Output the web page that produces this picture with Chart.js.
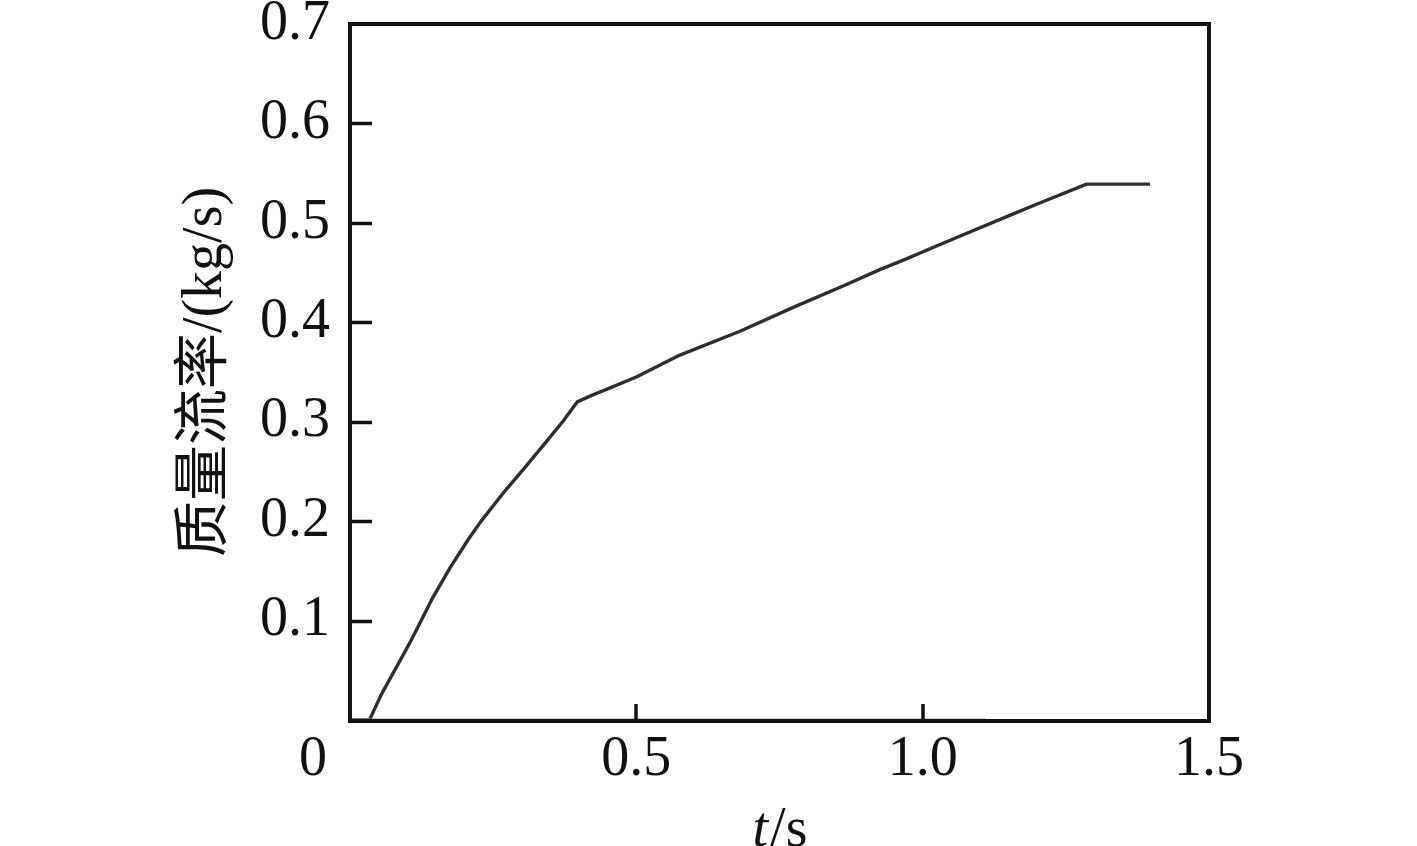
<!DOCTYPE html>
<html>
<head>
<meta charset="utf-8">
<script src="https://cdn.jsdelivr.net/npm/chart.js@4.4.1/dist/chart.umd.min.js"></script>
<style>
html,body{margin:0;padding:0;background:#fff;}
canvas{display:block;}
</style>
</head>
<body>
<canvas id="c" width="1417" height="846"></canvas>
<script>
// ---- data ----
const timeS    = [0, 0.034, 0.055, 0.080, 0.102, 0.1235, 0.1426, 0.1746, 0.207, 0.229, 0.270, 0.3027, 0.340, 0.3726, 0.397, 0.420, 0.450, 0.500, 0.576, 0.681, 0.774, 0.867, 0.925, 0.960, 1.050, 1.150, 1.200, 1.2863, 1.397];
const massFlow = [0, 0,     0.026, 0.052, 0.075, 0.099,  0.121,  0.153,  0.182, 0.200, 0.230, 0.252,  0.278, 0.301,  0.320, 0.326, 0.333, 0.345, 0.367, 0.391, 0.415, 0.438, 0.453, 0.461, 0.483, 0.507, 0.519, 0.539,  0.539];
const baseTime = [0, 1.11];
const baseFlow = [0, 0];
const xTickValues = [0, 0.5, 1.0, 1.5];
const xTickLabels = ['0', '0.5', '1.0', '1.5'];
const yTickValues = [0, 0.1, 0.2, 0.3, 0.4, 0.5, 0.6, 0.7];
const yTickLabels = ['', '0.1', '0.2', '0.3', '0.4', '0.5', '0.6', '0.7'];
const xTitleItalic = 't';
const xTitleRest = '/s';
const yTitle = '质量流率/(kg/s)';

const FONT = '"Liberation Serif", "Times New Roman", "Noto Sans CJK SC", serif';
const FS = 56;

function labelFor(values, labels, v) {
  for (let i = 0; i < values.length; i++) if (Math.abs(values[i] - v) < 1e-6) return labels[i];
  return '';
}

const framePlugin = {
  id: 'frame',
  afterDraw(chart) {
    const ctx = chart.ctx, a = chart.chartArea;
    const xs = chart.scales.x, ys = chart.scales.y;
    ctx.save();
    ctx.strokeStyle = '#111';
    ctx.lineWidth = 4;
    ctx.strokeRect(a.left, a.top, a.right - a.left, a.bottom - a.top + 1);
    ctx.lineWidth = 3.5;
    // inward y ticks
    yTickValues.forEach(v => {
      if (v <= 0 || v >= 0.7) return;
      const y = Math.round(ys.getPixelForValue(v)) + 0.5;
      ctx.beginPath(); ctx.moveTo(a.left, y); ctx.lineTo(a.left + 22, y); ctx.stroke();
    });
    // inward x ticks
    xTickValues.forEach(v => {
      if (v <= 0 || v >= 1.5) return;
      const x = Math.round(xs.getPixelForValue(v));
      ctx.beginPath(); ctx.moveTo(x, a.bottom); ctx.lineTo(x, a.bottom - 16); ctx.stroke();
    });
    // origin label
    ctx.fillStyle = '#111';
    ctx.font = FS + 'px ' + FONT;
    ctx.textAlign = 'center';
    ctx.textBaseline = 'top';
    ctx.fillText(xTickLabels[0], xs.getPixelForValue(0) - 37, a.bottom + 12);
    // x title
    ctx.textBaseline = 'alphabetic';
    ctx.textAlign = 'left';
    ctx.font = 'italic ' + FS + 'px ' + FONT;
    const w1 = ctx.measureText(xTitleItalic).width;
    ctx.font = FS + 'px ' + FONT;
    const w2 = ctx.measureText(xTitleRest).width;
    const cx = 779;
    let sx = cx - (w1 + w2) / 2;
    ctx.font = 'italic ' + FS + 'px ' + FONT;
    ctx.fillText(xTitleItalic, sx, 846);
    ctx.font = FS + 'px ' + FONT;
    ctx.fillText(xTitleRest, sx + w1 + 2, 846);
    // y title
    ctx.translate(206, (a.top + a.bottom) / 2);
    ctx.rotate(-Math.PI / 2);
    ctx.textAlign = 'center';
    ctx.textBaseline = 'middle';
    ctx.font = FS + 'px ' + FONT;
    ctx.fillText(yTitle, 0, 0);
    ctx.restore();
  }
};

new Chart(document.getElementById('c'), {
  type: 'line',
  data: {
    datasets: [
      {
        label: 'base',
        data: baseTime.map((t, i) => ({x: t, y: baseFlow[i]})),
        borderColor: '#9a9a9a',
        borderWidth: 3,
        pointRadius: 0,
        tension: 0
      },
      {
        label: '质量流率',
        data: timeS.map((t, i) => ({x: t, y: massFlow[i]})),
        borderColor: '#2e2e2e',
        borderWidth: 3.4,
        pointRadius: 0,
        tension: 0,
        borderJoinStyle: 'round'
      }
    ]
  },
  options: {
    responsive: false,
    animation: false,
    devicePixelRatio: 1,
    layout: { padding: { left: 0, top: 24, right: 208, bottom: 0 } },
    plugins: { legend: { display: false }, tooltip: { enabled: false } },
    scales: {
      x: {
        type: 'linear', min: 0, max: 1.5,
        border: { display: false },
        grid: { display: false, drawTicks: false, tickLength: 0 },
        afterBuildTicks(s) { s.ticks = xTickValues.map(v => ({value: v})); },
        ticks: {
          color: '#111',
          font: { family: FONT, size: FS, lineHeight: 1 },
          padding: 12,
          maxRotation: 0,
          autoSkip: false,
          callback: (v) => v === 0 ? '' : labelFor(xTickValues, xTickLabels, v)
        },
        afterFit(s) { s.height = 126; s.paddingLeft = 0; s.paddingRight = 0; }
      },
      y: {
        type: 'linear', min: 0, max: 0.7,
        border: { display: false },
        grid: { display: false, drawTicks: false, tickLength: 0 },
        afterBuildTicks(s) { s.ticks = yTickValues.map(v => ({value: v})); },
        ticks: {
          color: '#111',
          font: { family: FONT, size: FS, lineHeight: 1 },
          padding: 20,
          autoSkip: false,
          callback: (v) => labelFor(yTickValues, yTickLabels, v)
        },
        afterFit(s) { s.width = 350; s.paddingTop = 0; s.paddingBottom = 0; }
      }
    }
  },
  plugins: [framePlugin]
});
</script>
</body>
</html>
